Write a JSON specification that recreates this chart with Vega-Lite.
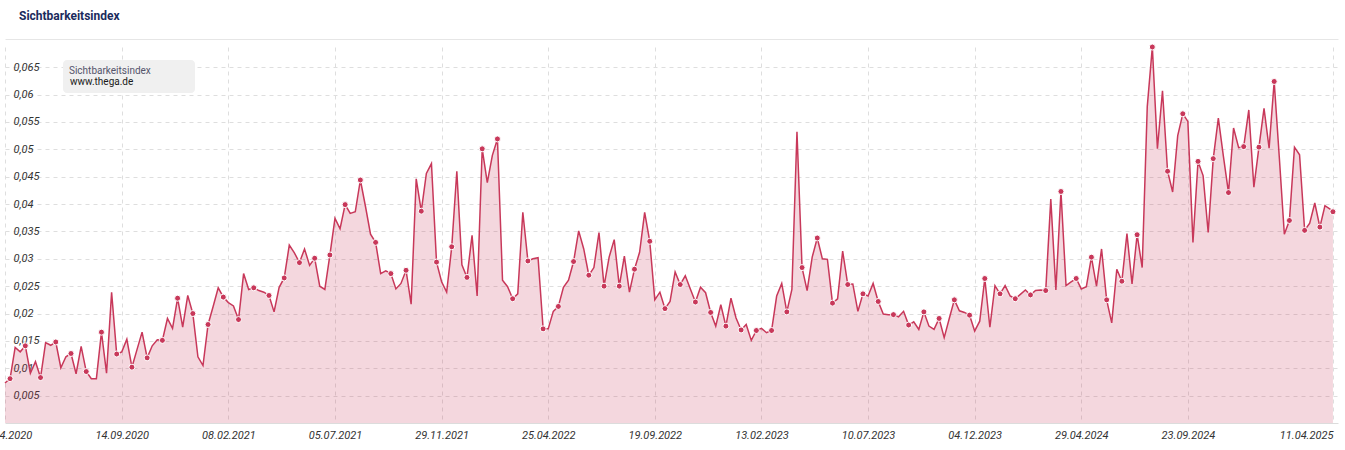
{
  "$schema": "https://vega.github.io/schema/vega-lite/v6.json",
  "width": 1333,
  "height": 376,
  "autosize": {"type": "none"},
  "padding": {"left": 5, "top": 47, "right": 7, "bottom": 27},
  "background": "white",
  "config": {"view": {"stroke": null}, "font": "Roboto"},
  "title": {"text": "Sichtbarkeitsindex", "anchor": "start", "frame": "group", "dx": 14, "offset": 16, "fontSize": 12, "fontWeight": "bold", "color": "#1b2b5c", "font": "Roboto"},
  "data": {"values": [
    {"date": "2020-04-06", "value": 0.0073}, {"date": "2020-04-13", "value": 0.0081}, {"date": "2020-04-20", "value": 0.0138}, {"date": "2020-04-27", "value": 0.0130},
    {"date": "2020-05-04", "value": 0.0141}, {"date": "2020-05-11", "value": 0.0091}, {"date": "2020-05-18", "value": 0.0112}, {"date": "2020-05-25", "value": 0.0083},
    {"date": "2020-06-01", "value": 0.0147}, {"date": "2020-06-08", "value": 0.0142}, {"date": "2020-06-15", "value": 0.0148}, {"date": "2020-06-22", "value": 0.0101}, {"date": "2020-06-29", "value": 0.0121},
    {"date": "2020-07-06", "value": 0.0127}, {"date": "2020-07-13", "value": 0.0090}, {"date": "2020-07-20", "value": 0.0140}, {"date": "2020-07-27", "value": 0.0094},
    {"date": "2020-08-03", "value": 0.0081}, {"date": "2020-08-10", "value": 0.0081}, {"date": "2020-08-17", "value": 0.0166}, {"date": "2020-08-24", "value": 0.0091}, {"date": "2020-08-31", "value": 0.0239},
    {"date": "2020-09-07", "value": 0.0126}, {"date": "2020-09-14", "value": 0.0130}, {"date": "2020-09-21", "value": 0.0153}, {"date": "2020-09-28", "value": 0.0102},
    {"date": "2020-10-05", "value": 0.0134}, {"date": "2020-10-12", "value": 0.0166}, {"date": "2020-10-19", "value": 0.0119}, {"date": "2020-10-26", "value": 0.0141},
    {"date": "2020-11-02", "value": 0.0152}, {"date": "2020-11-09", "value": 0.0151}, {"date": "2020-11-16", "value": 0.0191}, {"date": "2020-11-23", "value": 0.0173}, {"date": "2020-11-30", "value": 0.0228},
    {"date": "2020-12-07", "value": 0.0175}, {"date": "2020-12-14", "value": 0.0233}, {"date": "2020-12-21", "value": 0.0200}, {"date": "2020-12-28", "value": 0.0121},
    {"date": "2021-01-04", "value": 0.0105}, {"date": "2021-01-11", "value": 0.0180}, {"date": "2021-01-18", "value": 0.0213}, {"date": "2021-01-25", "value": 0.0247},
    {"date": "2021-02-01", "value": 0.0230}, {"date": "2021-02-08", "value": 0.0220}, {"date": "2021-02-15", "value": 0.0214}, {"date": "2021-02-22", "value": 0.0189},
    {"date": "2021-03-01", "value": 0.0273}, {"date": "2021-03-08", "value": 0.0244}, {"date": "2021-03-15", "value": 0.0247}, {"date": "2021-03-22", "value": 0.0242}, {"date": "2021-03-29", "value": 0.0239},
    {"date": "2021-04-05", "value": 0.0233}, {"date": "2021-04-12", "value": 0.0203}, {"date": "2021-04-19", "value": 0.0248}, {"date": "2021-04-26", "value": 0.0265},
    {"date": "2021-05-03", "value": 0.0325}, {"date": "2021-05-10", "value": 0.0311}, {"date": "2021-05-17", "value": 0.0293}, {"date": "2021-05-24", "value": 0.0318}, {"date": "2021-05-31", "value": 0.0288},
    {"date": "2021-06-07", "value": 0.0301}, {"date": "2021-06-14", "value": 0.0250}, {"date": "2021-06-21", "value": 0.0244}, {"date": "2021-06-28", "value": 0.0307},
    {"date": "2021-07-05", "value": 0.0374}, {"date": "2021-07-12", "value": 0.0355}, {"date": "2021-07-19", "value": 0.0399}, {"date": "2021-07-26", "value": 0.0383},
    {"date": "2021-08-02", "value": 0.0386}, {"date": "2021-08-09", "value": 0.0444}, {"date": "2021-08-16", "value": 0.0396}, {"date": "2021-08-23", "value": 0.0345}, {"date": "2021-08-30", "value": 0.0330},
    {"date": "2021-09-06", "value": 0.0273}, {"date": "2021-09-13", "value": 0.0278}, {"date": "2021-09-20", "value": 0.0273}, {"date": "2021-09-27", "value": 0.0245},
    {"date": "2021-10-04", "value": 0.0255}, {"date": "2021-10-11", "value": 0.0279}, {"date": "2021-10-18", "value": 0.0217}, {"date": "2021-10-25", "value": 0.0446},
    {"date": "2021-11-01", "value": 0.0387}, {"date": "2021-11-08", "value": 0.0456}, {"date": "2021-11-15", "value": 0.0474}, {"date": "2021-11-22", "value": 0.0294}, {"date": "2021-11-29", "value": 0.0258},
    {"date": "2021-12-06", "value": 0.0239}, {"date": "2021-12-13", "value": 0.0322}, {"date": "2021-12-20", "value": 0.0460}, {"date": "2021-12-27", "value": 0.0289},
    {"date": "2022-01-03", "value": 0.0266}, {"date": "2022-01-10", "value": 0.0343}, {"date": "2022-01-17", "value": 0.0232}, {"date": "2022-01-24", "value": 0.0501}, {"date": "2022-01-31", "value": 0.0439},
    {"date": "2022-02-07", "value": 0.0489}, {"date": "2022-02-14", "value": 0.0519}, {"date": "2022-02-21", "value": 0.0261}, {"date": "2022-02-28", "value": 0.0249},
    {"date": "2022-03-07", "value": 0.0227}, {"date": "2022-03-14", "value": 0.0236}, {"date": "2022-03-21", "value": 0.0385}, {"date": "2022-03-28", "value": 0.0296},
    {"date": "2022-04-04", "value": 0.0300}, {"date": "2022-04-11", "value": 0.0302}, {"date": "2022-04-18", "value": 0.0172}, {"date": "2022-04-25", "value": 0.0172},
    {"date": "2022-05-02", "value": 0.0204}, {"date": "2022-05-09", "value": 0.0213}, {"date": "2022-05-16", "value": 0.0248}, {"date": "2022-05-23", "value": 0.0261}, {"date": "2022-05-30", "value": 0.0295},
    {"date": "2022-06-06", "value": 0.0351}, {"date": "2022-06-13", "value": 0.0318}, {"date": "2022-06-20", "value": 0.0270}, {"date": "2022-06-27", "value": 0.0284},
    {"date": "2022-07-04", "value": 0.0348}, {"date": "2022-07-11", "value": 0.0250}, {"date": "2022-07-18", "value": 0.0303}, {"date": "2022-07-25", "value": 0.0335},
    {"date": "2022-08-01", "value": 0.0250}, {"date": "2022-08-08", "value": 0.0305}, {"date": "2022-08-15", "value": 0.0239}, {"date": "2022-08-22", "value": 0.0281}, {"date": "2022-08-29", "value": 0.0312},
    {"date": "2022-09-05", "value": 0.0385}, {"date": "2022-09-12", "value": 0.0332}, {"date": "2022-09-19", "value": 0.0225}, {"date": "2022-09-26", "value": 0.0239},
    {"date": "2022-10-03", "value": 0.0209}, {"date": "2022-10-10", "value": 0.0222}, {"date": "2022-10-17", "value": 0.0276}, {"date": "2022-10-24", "value": 0.0253}, {"date": "2022-10-31", "value": 0.0269},
    {"date": "2022-11-07", "value": 0.0245}, {"date": "2022-11-14", "value": 0.0221}, {"date": "2022-11-21", "value": 0.0248}, {"date": "2022-11-28", "value": 0.0238},
    {"date": "2022-12-05", "value": 0.0202}, {"date": "2022-12-12", "value": 0.0177}, {"date": "2022-12-19", "value": 0.0216}, {"date": "2022-12-26", "value": 0.0177},
    {"date": "2023-01-02", "value": 0.0228}, {"date": "2023-01-09", "value": 0.0192}, {"date": "2023-01-16", "value": 0.0170}, {"date": "2023-01-23", "value": 0.0180}, {"date": "2023-01-30", "value": 0.0151},
    {"date": "2023-02-06", "value": 0.0169}, {"date": "2023-02-13", "value": 0.0173}, {"date": "2023-02-20", "value": 0.0165}, {"date": "2023-02-27", "value": 0.0169},
    {"date": "2023-03-06", "value": 0.0232}, {"date": "2023-03-13", "value": 0.0255}, {"date": "2023-03-20", "value": 0.0203}, {"date": "2023-03-27", "value": 0.0244},
    {"date": "2023-04-03", "value": 0.0532}, {"date": "2023-04-10", "value": 0.0284}, {"date": "2023-04-17", "value": 0.0242}, {"date": "2023-04-24", "value": 0.0303},
    {"date": "2023-05-01", "value": 0.0338}, {"date": "2023-05-08", "value": 0.0300}, {"date": "2023-05-15", "value": 0.0299}, {"date": "2023-05-22", "value": 0.0219}, {"date": "2023-05-29", "value": 0.0227},
    {"date": "2023-06-05", "value": 0.0314}, {"date": "2023-06-12", "value": 0.0253}, {"date": "2023-06-19", "value": 0.0254}, {"date": "2023-06-26", "value": 0.0204},
    {"date": "2023-07-03", "value": 0.0236}, {"date": "2023-07-10", "value": 0.0232}, {"date": "2023-07-17", "value": 0.0255}, {"date": "2023-07-24", "value": 0.0222}, {"date": "2023-07-31", "value": 0.0199},
    {"date": "2023-08-07", "value": 0.0198}, {"date": "2023-08-14", "value": 0.0198}, {"date": "2023-08-21", "value": 0.0194}, {"date": "2023-08-28", "value": 0.0204},
    {"date": "2023-09-04", "value": 0.0179}, {"date": "2023-09-11", "value": 0.0185}, {"date": "2023-09-18", "value": 0.0171}, {"date": "2023-09-25", "value": 0.0203},
    {"date": "2023-10-02", "value": 0.0177}, {"date": "2023-10-09", "value": 0.0171}, {"date": "2023-10-16", "value": 0.0191}, {"date": "2023-10-23", "value": 0.0156}, {"date": "2023-10-30", "value": 0.0191},
    {"date": "2023-11-06", "value": 0.0225}, {"date": "2023-11-13", "value": 0.0205}, {"date": "2023-11-20", "value": 0.0202}, {"date": "2023-11-27", "value": 0.0197},
    {"date": "2023-12-04", "value": 0.0168}, {"date": "2023-12-11", "value": 0.0186}, {"date": "2023-12-18", "value": 0.0264}, {"date": "2023-12-25", "value": 0.0175},
    {"date": "2024-01-01", "value": 0.0251}, {"date": "2024-01-08", "value": 0.0236}, {"date": "2024-01-15", "value": 0.0251}, {"date": "2024-01-22", "value": 0.0232}, {"date": "2024-01-29", "value": 0.0227},
    {"date": "2024-02-05", "value": 0.0235}, {"date": "2024-02-12", "value": 0.0243}, {"date": "2024-02-19", "value": 0.0234}, {"date": "2024-02-26", "value": 0.0242},
    {"date": "2024-03-04", "value": 0.0243}, {"date": "2024-03-11", "value": 0.0242}, {"date": "2024-03-18", "value": 0.0409}, {"date": "2024-03-25", "value": 0.0243},
    {"date": "2024-04-01", "value": 0.0423}, {"date": "2024-04-08", "value": 0.0251}, {"date": "2024-04-15", "value": 0.0258}, {"date": "2024-04-22", "value": 0.0264}, {"date": "2024-04-29", "value": 0.0245},
    {"date": "2024-05-06", "value": 0.0249}, {"date": "2024-05-13", "value": 0.0303}, {"date": "2024-05-20", "value": 0.0250}, {"date": "2024-05-27", "value": 0.0318},
    {"date": "2024-06-03", "value": 0.0225}, {"date": "2024-06-10", "value": 0.0183}, {"date": "2024-06-17", "value": 0.0281}, {"date": "2024-06-24", "value": 0.0259},
    {"date": "2024-07-01", "value": 0.0346}, {"date": "2024-07-08", "value": 0.0254}, {"date": "2024-07-15", "value": 0.0344}, {"date": "2024-07-22", "value": 0.0284}, {"date": "2024-07-29", "value": 0.0578},
    {"date": "2024-08-05", "value": 0.0687}, {"date": "2024-08-12", "value": 0.0501}, {"date": "2024-08-19", "value": 0.0607}, {"date": "2024-08-26", "value": 0.0460},
    {"date": "2024-09-02", "value": 0.0422}, {"date": "2024-09-09", "value": 0.0525}, {"date": "2024-09-16", "value": 0.0565}, {"date": "2024-09-23", "value": 0.0551}, {"date": "2024-09-30", "value": 0.0330},
    {"date": "2024-10-07", "value": 0.0478}, {"date": "2024-10-14", "value": 0.0452}, {"date": "2024-10-21", "value": 0.0348}, {"date": "2024-10-28", "value": 0.0483},
    {"date": "2024-11-04", "value": 0.0557}, {"date": "2024-11-11", "value": 0.0487}, {"date": "2024-11-18", "value": 0.0421}, {"date": "2024-11-25", "value": 0.0539},
    {"date": "2024-12-02", "value": 0.0503}, {"date": "2024-12-09", "value": 0.0505}, {"date": "2024-12-16", "value": 0.0572}, {"date": "2024-12-23", "value": 0.0431}, {"date": "2024-12-30", "value": 0.0504},
    {"date": "2025-01-06", "value": 0.0575}, {"date": "2025-01-13", "value": 0.0502}, {"date": "2025-01-20", "value": 0.0624}, {"date": "2025-01-27", "value": 0.0487},
    {"date": "2025-02-03", "value": 0.0345}, {"date": "2025-02-10", "value": 0.0370}, {"date": "2025-02-17", "value": 0.0504}, {"date": "2025-02-24", "value": 0.0490},
    {"date": "2025-03-03", "value": 0.0352}, {"date": "2025-03-10", "value": 0.0365}, {"date": "2025-03-17", "value": 0.0402}, {"date": "2025-03-24", "value": 0.0358}, {"date": "2025-03-31", "value": 0.0397},
    {"date": "2025-04-07", "value": 0.0391}, {"date": "2025-04-11", "value": 0.0386}
  ]},
  "transform": [{"window": [{"op": "row_number", "as": "rn"}]}],
  "encoding": {
    "y": {
      "field": "value", "type": "quantitative",
      "scale": {"domain": [0, 0.0687], "nice": false, "zero": true},
      "axis": {
        "title": null, "orient": "left", "domain": false, "ticks": false, "tickSize": 0,
        "values": [0.005, 0.01, 0.015, 0.02, 0.025, 0.03, 0.035, 0.04, 0.045, 0.05, 0.055, 0.06, 0.065],
        "labelExpr": "replace(format(datum.value, '.3~f'), '.', ',')",
        "labelAlign": "left", "labelBaseline": "middle", "labelPadding": -8,
        "labelFont": "Roboto", "labelFontSize": 11, "labelFontStyle": "italic", "labelColor": "#333333",
        "gridColor": "#dedede", "gridDash": [4, 4], "gridWidth": 1
      }
    }
  },
  "layer": [
    {
      "mark": {"type": "area", "color": "#c8385a", "opacity": 0.2},
      "encoding": {
        "x": {
          "field": "date", "type": "temporal",
          "scale": {"type": "utc", "domain": [{"year": 2020, "month": 4, "date": 6, "utc": true}, {"year": 2025, "month": 4, "date": 18, "utc": true}]},
          "axis": {
            "title": null, "orient": "bottom", "format": "%d.%m.%Y",
            "values": [
              {"year": 2020, "month": 4, "date": 6, "utc": true},
              {"year": 2020, "month": 9, "date": 14, "utc": true},
              {"year": 2021, "month": 2, "date": 8, "utc": true},
              {"year": 2021, "month": 7, "date": 5, "utc": true},
              {"year": 2021, "month": 11, "date": 29, "utc": true},
              {"year": 2022, "month": 4, "date": 25, "utc": true},
              {"year": 2022, "month": 9, "date": 19, "utc": true},
              {"year": 2023, "month": 2, "date": 13, "utc": true},
              {"year": 2023, "month": 7, "date": 10, "utc": true},
              {"year": 2023, "month": 12, "date": 4, "utc": true},
              {"year": 2024, "month": 4, "date": 29, "utc": true},
              {"year": 2024, "month": 9, "date": 23, "utc": true},
              {"year": 2025, "month": 4, "date": 11, "utc": true}
            ],
            "ticks": false, "tickSize": 0, "labelPadding": 6, "labelFlush": false, "labelOverlap": false,
            "labelAlign": {"expr": "datum.value > 1740000000000 ? 'right' : 'center'"},
            "labelFont": "Roboto", "labelFontSize": 11, "labelFontStyle": "italic", "labelColor": "#333333",
            "domain": true, "domainColor": "#dcdcdc", "domainWidth": 1,
            "gridColor": "#dedede", "gridDash": [4, 4], "gridWidth": 1
          }
        }
      }
    },
    {
      "mark": {"type": "line", "strokeWidth": 1.5, "interpolate": "linear"},
      "encoding": {
        "x": {"field": "date", "type": "temporal", "axis": null},
        "color": {
          "datum": "www.thega.de",
          "scale": {"range": ["#c8385a"]},
          "legend": {
            "orient": "none", "legendX": 58, "legendY": 13,
            "title": "Sichtbarkeitsindex\u00a0\u00a0\u00a0\u00a0\u00a0\u00a0\u00a0\u00a0\u00a0\u00a0\u00a0\u00a0\u00a0\u00a0\u00a0\u200b",
            "fillColor": "#f0f0f0", "cornerRadius": 4, "padding": 6,
            "titleFont": "Roboto", "titleFontSize": 10, "titleFontWeight": "normal", "titleColor": "#55556b", "titlePadding": 1,
            "labelFont": "Roboto", "labelFontSize": 10, "labelColor": "#1a1a1a", "labelOffset": -9,
            "symbolSize": 0, "symbolOpacity": 0, "symbolStrokeWidth": 0, "symbolType": "circle"
          }
        }
      }
    },
    {
      "transform": [{"filter": "datum.rn % 3 == 2"}],
      "mark": {"type": "point", "filled": true, "size": 36, "fill": "#c8385a", "stroke": "white", "strokeWidth": 1, "opacity": 1},
      "encoding": {
        "x": {
          "field": "date", "type": "temporal",
          "axis": {"title": null, "orient": "top", "offset": 8, "labels": false, "ticks": false, "grid": false, "domain": true, "domainColor": "#e6e6e6"}
        }
      }
    }
  ],
  "resolve": {"axis": {"x": "independent"}}
}
